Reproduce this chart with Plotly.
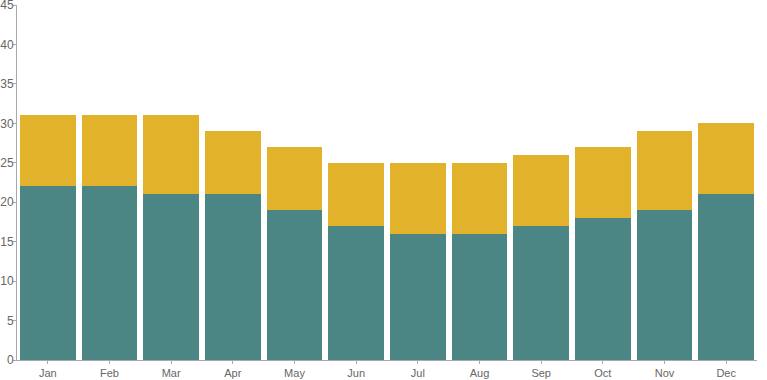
import plotly.graph_objects as go

months = ["Jan", "Feb", "Mar", "Apr", "May", "Jun", "Jul", "Aug", "Sep", "Oct", "Nov", "Dec"]
lower = [22, 22, 21, 21, 19, 17, 16, 16, 17, 18, 19, 21]
upper = [9, 9, 10, 8, 8, 8, 9, 9, 9, 9, 10, 9]
y_ticks = [0, 5, 10, 15, 20, 25, 30, 35, 40, 45]

fig = go.Figure()
fig.add_trace(go.Bar(x=months, y=lower, marker=dict(color="#4b8584", line=dict(width=0)), name="A"))
fig.add_trace(go.Bar(x=months, y=upper, marker=dict(color="#e3b22b", line=dict(width=0)), name="B"))

fig.update_layout(
    barmode="stack",
    bargap=0.1,
    width=767,
    height=380,
    margin=dict(l=17, r=10, t=5, b=20, autoexpand=False),
    paper_bgcolor="white",
    plot_bgcolor="white",
    showlegend=False,
    font=dict(family="Liberation Sans, Arial, sans-serif", color="#666666", size=12),
    xaxis=dict(
        automargin=False,
        showline=True, linecolor="#aaaaaa", linewidth=1,
        ticks="outside", ticklen=3, tickcolor="#aaaaaa",
        showgrid=False, tickfont=dict(size=11, color="#666666"),
        ticklabeloverflow="allow",
    ),
    yaxis=dict(
        automargin=False,
        range=[0, 45], tickvals=y_ticks,
        showline=True, linecolor="#aaaaaa", linewidth=1,
        ticks="outside", ticklen=3, tickcolor="#aaaaaa",
        showgrid=False, zeroline=False,
        tickfont=dict(size=12, color="#666666"),
        ticklabeloverflow="allow",
        ticklabelstandoff=-3,
    ),
)

fig.write_html(
    "out.html",
    config={"displayModeBar": False},
    post_script="document.body.style.margin='0';document.body.style.padding='0';document.body.style.overflow='hidden';",
)
